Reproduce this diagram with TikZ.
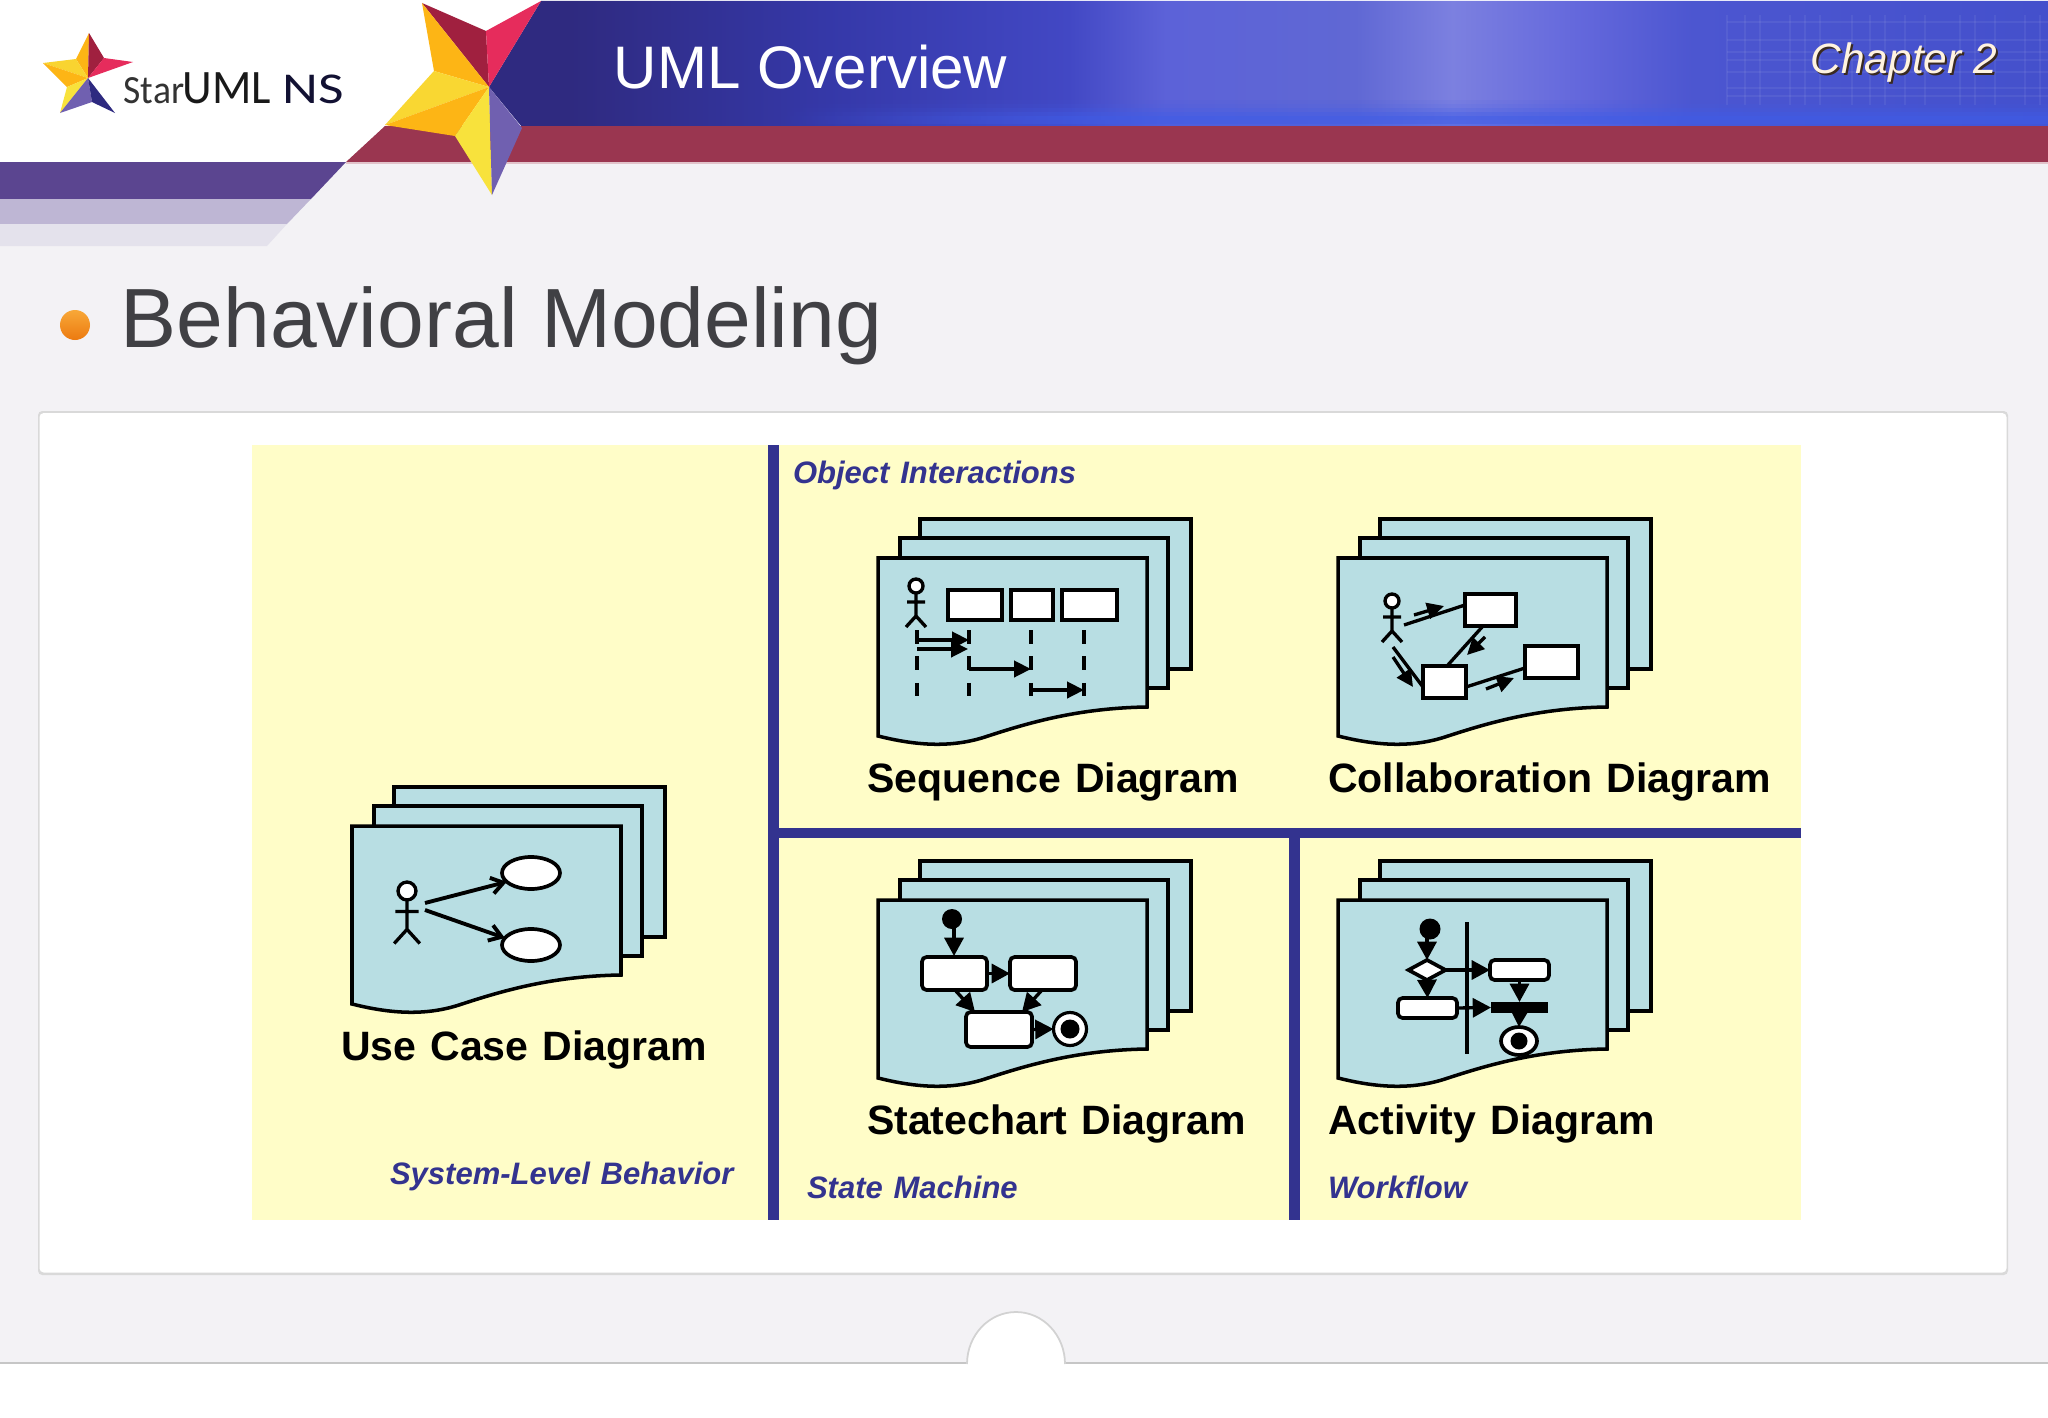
\documentclass[tikz,border=0pt]{standalone}
\usepackage{fontspec}
\setmainfont{Liberation Sans}
\newfontfamily\lblfont[WordSpace=1.25]{Liberation Sans}
\newfontfamily\logofont{Carlito}
\usetikzlibrary{arrows.meta,shapes.geometric,calc,fadings}
\newcommand\pxfont[1]{\pgfmathsetmacro\tmpfs{#1*0.28453}\fontsize{\tmpfs pt}{\tmpfs pt}\selectfont}
\definecolor{pagegray}{HTML}{F3F2F5}
\definecolor{paleyellow}{HTML}{FFFDC8}
\definecolor{barblue}{HTML}{33338F}
\definecolor{sheetblue}{HTML}{B8DEE3}
\definecolor{bandred}{HTML}{9A3650}
\definecolor{bandpurple}{HTML}{5B4590}
\definecolor{bandlav}{HTML}{BEB6D4}
\definecolor{bandpale}{HTML}{E4E2EC}
\definecolor{stGold}{HTML}{FDB515}
\definecolor{stYellow}{HTML}{F8E23C}
\definecolor{stCrimson}{HTML}{A0203F}
\definecolor{stPink}{HTML}{E62C5C}
\definecolor{stPurple}{HTML}{7060B0}
\definecolor{stNavy}{HTML}{2E2A80}
\definecolor{stripblue}{HTML}{3F5CE6}
\definecolor{headingink}{HTML}{404044}
\definecolor{chapshadow}{HTML}{3A2A20}
\definecolor{chapink}{HTML}{FFF3E0}
\definecolor{bulletlight}{HTML}{F8A838}
\definecolor{bulletdark}{HTML}{EC7A10}
\pgfdeclarehorizontalshading{hdrshade}{100bp}{rgb(0bp)=(.184,.165,.502);rgb(27.6bp)=(.184,.165,.502);rgb(35.9bp)=(.208,.22,.659);rgb(43.6bp)=(.259,.282,.769);rgb(46.7bp)=(.361,.384,.847);rgb(52.8bp)=(.376,.408,.831);rgb(55.9bp)=(.486,.502,.878);rgb(59.9bp)=(.392,.408,.863);rgb(63.6bp)=(.298,.337,.816);rgb(75bp)=(.267,.314,.8);rgb(100bp)=(.267,.314,.8)}
\tikzset{
  sheet/.style={fill=sheetblue,draw=black,line width=1pt},
  stick/.style={draw=black,line width=.95pt},
  headnode/.style={circle,draw=black,fill=white,line width=.95pt,inner sep=0pt,outer sep=0pt},
  whitebox/.style={rectangle,draw=black,fill=white,line width=1.05pt,inner sep=0pt,outer sep=0pt},
  roundbox/.style={whitebox,rounded corners=1.3pt},
  blackbar/.style={rectangle,fill=black,inner sep=0pt,outer sep=0pt},
  usecase/.style={ellipse,draw=black,fill=white,line width=1.05pt,inner sep=0pt,outer sep=0pt,minimum width=58*0.01cm,minimum height=32*0.01cm},
  msg/.style={draw=black,line width=.95pt,-{Triangle[length=4.8pt,width=4.6pt]}},
  bigmsg/.style={draw=black,line width=.95pt,-{Triangle[length=5.2pt,width=5.4pt]}},
  link/.style={draw=black,line width=.95pt},
  openmsg/.style={draw=black,line width=1.1pt,-{Straight Barb[length=3.4pt,width=4.6pt]}},
  lifeline/.style={draw=black,line width=1pt,dash pattern=on 3.9pt off 3.6pt},
  captext/.style={anchor=base west,inner sep=0pt,outer sep=0pt,font=\lblfont\bfseries\pxfont{41},text=black},
  tagtext/.style={anchor=base west,inner sep=0pt,outer sep=0pt,font=\lblfont\bfseries\itshape\pxfont{31},text=barblue},
}
\newcommand\sheets[2]{%
  \begin{scope}[shift={(#1,#2)}]
    \draw[sheet] (42,-39) rectangle (313,111);
    \draw[sheet] (22,-20) rectangle (290,130);
    \draw[sheet] (0,0) -- (269,0) -- (269,149) .. controls (200,150) and (150,165) .. (110,178) .. controls (75,190) and (40,188) .. (0,178) -- cycle;
  \end{scope}}
\newcommand\actor[4]{%
  \begin{scope}[shift={(#2,#3)},scale=#4]
    \draw[stick] (0,7) -- (0,30) (-9,16) -- (9,16) (-10,41) -- (0,30) -- (10,41);
    \pgfmathsetmacro\hd{14*#4*0.01}
    \node[headnode,minimum size=\hd cm] (#1) at (0,0) {};
  \end{scope}}
% name, style, x1, y1, x2, y2
\newcommand\bx[6]{\node[#2,minimum width={(#5-#3)*0.01cm},minimum height={(#6-#4)*0.01cm}] (#1) at ({(#3+#5)/2},{(#4+#6)/2}) {};}
\begin{document}
\begin{tikzpicture}[x=0.01cm,y=-0.01cm]
\useasboundingbox (0,0) rectangle (2048,1418);
\clip (0,0) rectangle (2048,1418);
% page
\fill[white] (0,0) rectangle (2048,1418);
\fill[pagegray] (0,162) rectangle (2048,1363);
% left bands
\fill[bandpurple] (0,162) -- (346,162) -- (311,199) -- (0,199) -- cycle;
\fill[bandlav] (0,199) -- (311,199) -- (287,224) -- (0,224) -- cycle;
\fill[bandpale] (0,224) -- (287,224) -- (267,246) -- (0,246) -- cycle;
% header
\shade[shading=hdrshade] (541,1) -- (2048,1) -- (2048,127) -- (522,127) -- (489,87) -- cycle;
\foreach \yy/\op in {100/.08,104/.18,108/.34,112/.55,116/.75,120/.7,124/.45}{
  \fill[stripblue,opacity=\op,path fading=west] (780,\yy) rectangle (1080,\yy+4);
  \fill[stripblue,opacity=\op] (1080,\yy) rectangle (2048,\yy+4);}
\foreach \xx in {1727,1745,1760,1790,1805,1820,1852,1870,1885,1905,1925,1960,1975,1995,2025,2040}{
  \draw[white,opacity=.06,line width=.7pt] (\xx,15) -- (\xx,105);}
\foreach \yy in {22,40,52,60,72,88,96}{
  \draw[white,opacity=.06,line width=.7pt] (1727,\yy) -- (2048,\yy);}
% red band
\fill[bandred] (346,162) -- (385,126) -- (2048,126) -- (2048,162) -- cycle;
\fill[bandred!30!white] (346,162) rectangle (2048,163.5);
% large star
\fill[stCrimson] (422,3) -- (486,31) -- (489,87) -- cycle;
\fill[stPink] (486,31) -- (541,1) -- (489,87) -- cycle;
\fill[stGold] (422,3) -- (489,87) -- (434,71) -- cycle;
\fill[stYellow!75!stGold] (434,71) -- (489,87) -- (385,125) -- cycle;
\fill[stGold] (385,125) -- (489,87) -- (455,136) -- cycle;
\fill[stYellow] (489,87) -- (492,195) -- (455,136) -- cycle;
\fill[stPurple] (489,87) -- (522,128) -- (492,195) -- cycle;
% logo star
\fill[stGold] (89,33) -- (88,78) -- (76,59) -- cycle;
\fill[stCrimson] (89,33) -- (104,58) -- (88,78) -- cycle;
\fill[stPink] (104,58) -- (133,62) -- (88,78) -- cycle;
\fill[stYellow!70!stGold] (43,63) -- (76,59) -- (88,78) -- cycle;
\fill[stGold] (43,63) -- (88,78) -- (67,87) -- cycle;
\fill[stYellow] (88,78) -- (67,87) -- (60,113) -- cycle;
\fill[stPurple] (88,78) -- (60,113) -- (92,102) -- cycle;
\fill[stNavy] (88,78) -- (115,113) -- (92,102) -- cycle;
% logo text
\node[anchor=base west,inner sep=0pt,xscale=.94,text=black!80] (logoStar) at (123,103) {\logofont\pxfont{40}Star};
\node[anchor=base west,inner sep=0pt,xscale=.96,text=black!90] (logoUML) at (182,103) {\logofont\pxfont{48}UML};
\node[anchor=base west,inner sep=0pt,xscale=1.26,text=stNavy!40!black] (logoNS) at (282,103) {\logofont\pxfont{44}NS};
% titles
\node[anchor=base west,inner sep=0pt,text=white] (title) at (613,88) {\pxfont{60}UML Overview};
\node[anchor=base west,inner sep=0pt,text=chapshadow] (chapShadow) at (1812,75) {\itshape\pxfont{42.4}Chapter 2};
\node[anchor=base west,inner sep=0pt,text=chapink] (chapter) at (1810,73) {\itshape\pxfont{42.4}Chapter 2};
% bullet and heading
\shade[top color=bulletlight,bottom color=bulletdark] (75,325) circle[radius=15];
\node[anchor=base west,inner sep=0pt,text=headingink] (heading) at (120,347) {\pxfont{84}Behavioral Modeling};
% footer
\draw[gray!45,line width=.4pt] (0,1363) -- (2048,1363);
\fill[white] (967,1364) arc[start angle=180,end angle=360,x radius=49,y radius=52] -- cycle;
\draw[gray!35,line width=.5pt] (967,1364) arc[start angle=180,end angle=360,x radius=49,y radius=52];
% card
\fill[gray!30,rounded corners=1.2pt] (38,411) rectangle (2008,1275);
\fill[white,rounded corners=1.2pt] (39.5,413) rectangle (2006.5,1272.5);
% yellow panel and bars
\fill[paleyellow] (252,445) rectangle (1801,1220);
\fill[barblue] (768,445) rectangle (779,1220);
\fill[barblue] (779,828) rectangle (1801,838);
\fill[barblue] (1289,838) rectangle (1300,1220);
% sheets
\sheets{352}{826}
\sheets{878}{558}
\sheets{1338}{558}
\sheets{878}{900}
\sheets{1338}{900}
% captions
\node[captext] (capUse) at (341,1060) {Use Case Diagram};
\node[captext] (capSeq) at (867,792) {Sequence Diagram};
\node[captext] (capCol) at (1328,792) {Collaboration Diagram};
\node[captext] (capSta) at (867,1134) {Statechart Diagram};
\node[captext] (capAct) at (1328,1134) {Activity Diagram};
\node[tagtext] (tagObj) at (793,483) {Object Interactions};
\node[tagtext] (tagSys) at (390,1184) {System-Level Behavior};
\node[tagtext] (tagSta) at (807,1198) {State Machine};
\node[tagtext] (tagWrk) at (1328,1198) {Workflow};
% use case icon
\actor{uActor}{407}{891}{1.28}
\node[usecase] (uc1) at (531,873) {};
\node[usecase] (uc2) at (531,945) {};
\coordinate (uOut1) at (425,903);
\coordinate (uOut2) at (425,910);
\draw[openmsg] (uOut1) -- (uc1.200);
\draw[openmsg] (uOut2) -- (uc2.165);
% sequence icon
\actor{sActor}{916}{586}{1}
\bx{sq1}{whitebox}{948}{590}{1002}{620}
\bx{sq2}{whitebox}{1011}{590}{1053}{620}
\bx{sq3}{whitebox}{1062}{590}{1117}{620}
\foreach \nm/\xx in {a/917,b/969,c/1031,d/1084}{
  \coordinate (top\nm) at (\xx,630);
  \coordinate (bot\nm) at (\xx,698);
  \draw[lifeline] (top\nm) -- (bot\nm);}
\coordinate (m1a) at (917,640); \coordinate (m1b) at (969,640);
\coordinate (m2a) at (917,649); \coordinate (m2b) at (968,649);
\coordinate (m3a) at (969,669); \coordinate (m3b) at (1031,669);
\coordinate (m4a) at (1031,690); \coordinate (m4b) at (1084,690);
\draw[msg] (m1a) -- (m1b);
\draw[msg] (m2a) -- (m2b);
\draw[msg] (m3a) -- (m3b);
\draw[msg] (m4a) -- (m4b);
% collaboration icon
\actor{cActor}{1392}{601}{1}
\bx{cb1}{whitebox}{1465}{594}{1516}{626}
\bx{cb2}{whitebox}{1423}{666}{1466}{698}
\bx{cb3}{whitebox}{1525}{646}{1578}{678}
\coordinate (cOut1) at (1404,625);
\coordinate (cOut2) at (1393,647);
\coordinate (cIn1) at (1465,605);
\coordinate (cIn2) at (1423,687);
\coordinate (cFrom1) at (1483,626);
\coordinate (cTo1) at (1447,666);
\coordinate (cFrom2) at (1466,687);
\coordinate (cTo2) at (1525,668);
\draw[link] (cOut1) -- (cIn1);
\draw[link] (cOut2) -- (cIn2);
\draw[link] (cFrom1) -- (cTo1);
\draw[link] (cFrom2) -- (cTo2);
\coordinate (cm1a) at (1414,615); \coordinate (cm1b) at (1444,606);
\coordinate (cm2a) at (1485,637); \coordinate (cm2b) at (1467,655);
\coordinate (cm3a) at (1393,657); \coordinate (cm3b) at (1413,687);
\coordinate (cm4a) at (1486,689); \coordinate (cm4b) at (1514,678);
\draw[msg] (cm1a) -- (cm1b);
\draw[msg] (cm2a) -- (cm2b);
\draw[msg] (cm3a) -- (cm3b);
\draw[msg] (cm4a) -- (cm4b);
% statechart icon
\node[circle,fill=black,inner sep=0pt,minimum size=20*0.01cm] (sStart) at (952,919) {};
\bx{stA}{roundbox}{922}{957}{987}{990}
\bx{stB}{roundbox}{1010}{957}{1076}{990}
\bx{stC}{roundbox}{966}{1012}{1032}{1047}
\node[circle,draw=black,fill=white,line width=.9pt,inner sep=0pt,outer sep=0pt,minimum size=33*0.01cm] (stEnd) at (1070,1029) {};
\node[circle,fill=black,inner sep=0pt,minimum size=19*0.01cm] (stEndDot) at (1070,1029) {};
\coordinate (sArrowBeg) at (954,926);
\coordinate (sArrowEnd) at (954,956);
\coordinate (stAout) at (955,990);
\coordinate (stBout) at (1042,990);
\coordinate (stCin1) at (975,1012);
\coordinate (stCin2) at (1022,1012);
\draw[bigmsg] (sArrowBeg) -- (sArrowEnd);
\draw[bigmsg] (stA.east) -- (stB.west);
\draw[bigmsg] (stAout) -- (stCin1);
\draw[bigmsg] (stBout) -- (stCin2);
\draw[bigmsg] (stC.east) -- (stEnd.west);
% activity icon
\node[circle,fill=black,inner sep=0pt,minimum size=21*0.01cm] (aStart) at (1430,929) {};
\node[diamond,draw=black,fill=white,line width=1.05pt,inner sep=0pt,outer sep=0pt,minimum width=37*0.01cm,minimum height=20*0.01cm] (aDec) at (1427,970) {};
\bx{aAct1}{roundbox}{1490}{960}{1549}{980}
\bx{aAct2}{roundbox}{1398}{998}{1457}{1018}
\bx{aBar}{blackbar}{1491}{1002}{1548}{1013}
\node[ellipse,draw=black,fill=white,line width=1.05pt,inner sep=0pt,outer sep=0pt,minimum width=36*0.01cm,minimum height=28*0.01cm] (aEnd) at (1519,1041) {};
\node[circle,fill=black,inner sep=0pt,minimum size=17*0.01cm] (aEndDot) at (1519,1041) {};
\coordinate (laneTop) at (1467,922);
\coordinate (laneBot) at (1467,1054);
\draw[draw=black,line width=1.05pt] (laneTop) -- (laneBot);
\coordinate (aStartOut) at (1427,937);
\draw[bigmsg] (aStartOut) -- (aDec.north);
\draw[bigmsg] (aDec.east) -- (aAct1.west);
\draw[bigmsg] (aDec.south) -- (aAct2.north);
\draw[bigmsg] (aAct2.east) -- (aBar.west);
\draw[bigmsg] (aAct1.south) -- (aBar.north);
\draw[bigmsg] (aBar.south) -- (aEnd.north);
\end{tikzpicture}
\end{document}
